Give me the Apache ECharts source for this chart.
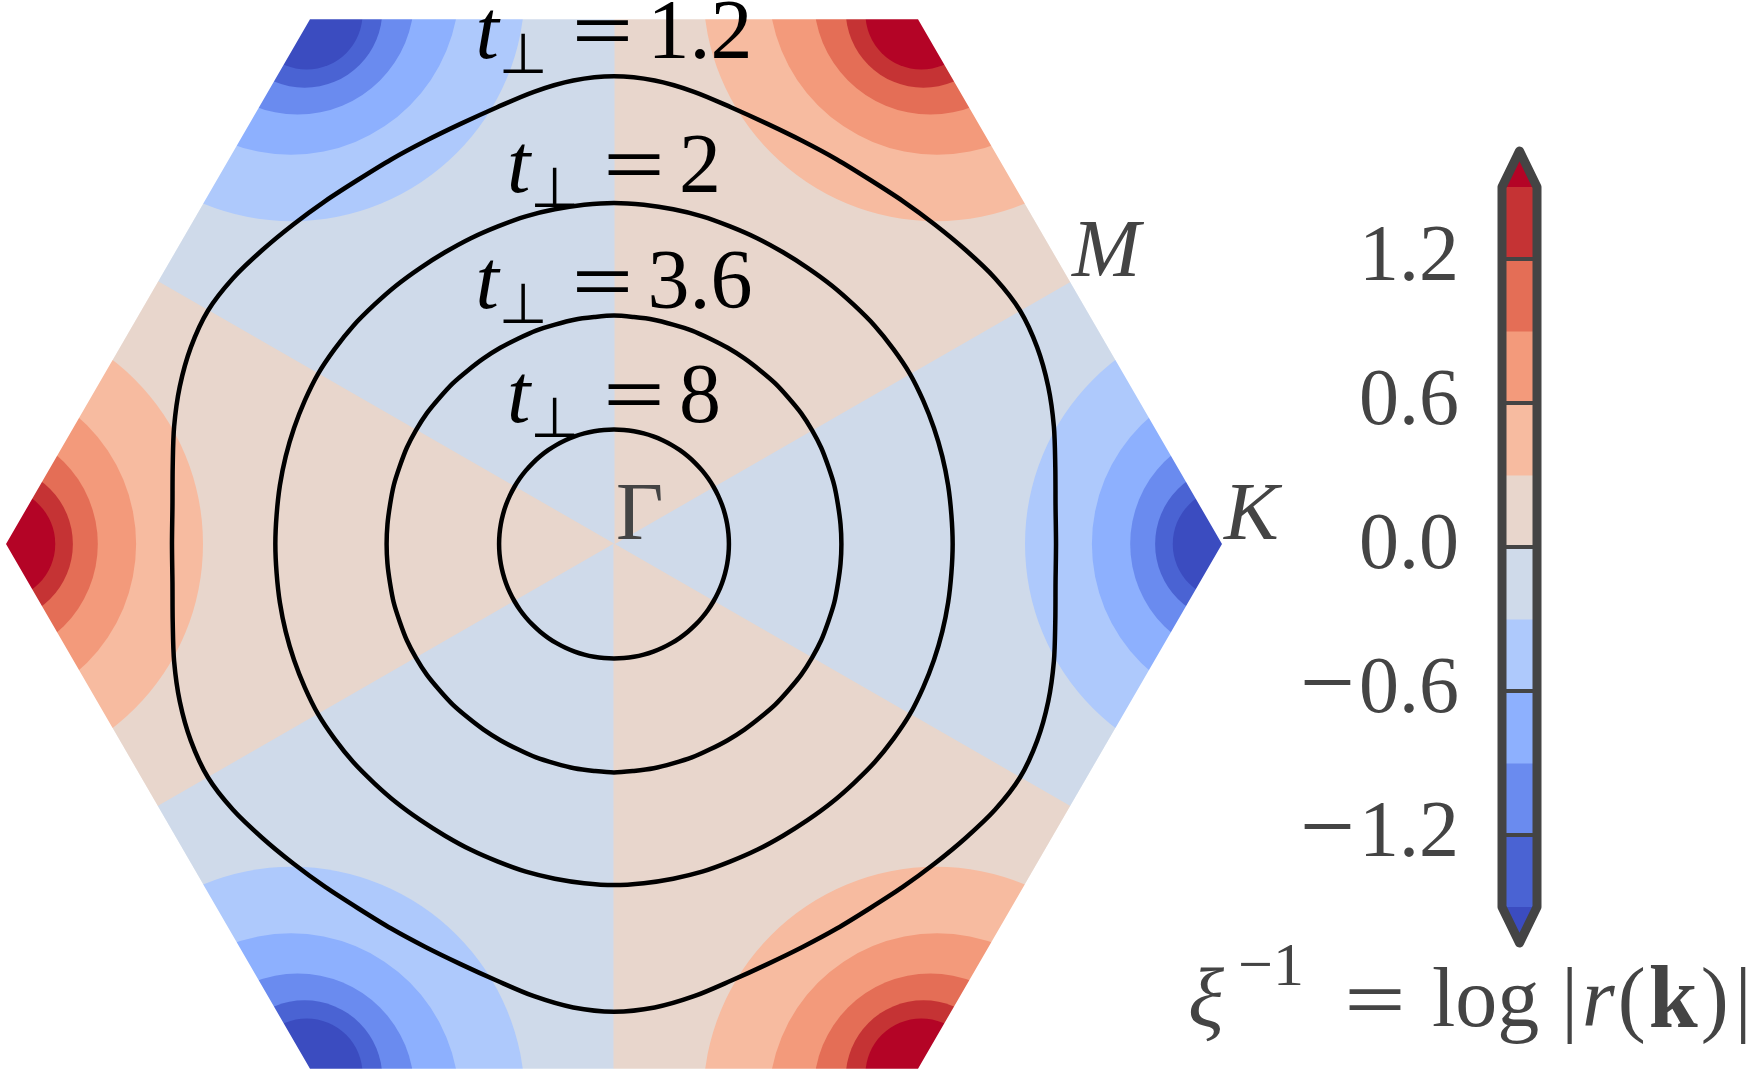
<!DOCTYPE html>
<html><head><meta charset="utf-8">
<script src="https://cdn.jsdelivr.net/npm/echarts@6/dist/echarts.min.js"></script>
<style>html,body{margin:0;padding:0;background:#fff}#c{width:1753px;height:1088px}</style>
</head><body><div id="c"></div>
<script>
// ---------------- data ----------------
const levels = [-1.5, -1.2, -0.9, -0.6, -0.3, 0, 0.3, 0.6, 0.9, 1.2, 1.5];
const levelColors = ['#3b4cc0','#4a63d3','#6a8bef','#8db0fe','#aec9fc','#cfdaea',
                     '#e8d6cc','#f7bba0','#f39a7b','#e46e56','#c53334','#b40426'];
// Brillouin-zone corners (K points) in units of |ΓK|, and sign of log|r| there
const cornerAngles = [0, 60, 120, 180, 240, 300];
const cornerSigns  = [-1, 1, -1, 1, -1, 1];
// filled-contour boundaries around each K point: |level| and distance from K
const ringLevels         = [0.3, 0.6, 0.9, 1.2, 1.5];
const ringRadiusBisector = [0.324, 0.214, 0.151, 0.110, 0.081];
const ringRadiusEdge     = [0.350, 0.240, 0.168, 0.118, 0.086];
// black contours: radius from Γ at polar angles 0..90 deg (mirror symmetric)
const contourLabels = ['1.2', '2', '3.6', '8'];
const contourAngles = [0, 5, 10, 15, 20, 25, 30, 35, 40, 45, 50, 55, 60, 65, 70, 75, 80, 85, 90];
const contourT12 = [0.727, 0.729, 0.737, 0.749, 0.760, 0.768, 0.771, 0.765, 0.755, 0.746, 0.739, 0.734,
                    0.733, 0.734, 0.738, 0.746, 0.758, 0.768, 0.772];
const contourT2  = [0.557, 0.557, 0.558, 0.559, 0.560, 0.561, 0.562, 0.561, 0.560, 0.558, 0.557, 0.556,
                    0.556, 0.557, 0.558, 0.560, 0.561, 0.562, 0.563];
const contourT36 = [0.374, 0.374, 0.374, 0.375, 0.375, 0.376, 0.376, 0.376, 0.375, 0.375, 0.374, 0.374,
                    0.374, 0.374, 0.375, 0.375, 0.376, 0.376, 0.377];
const contourT8  = [0.189, 0.189, 0.189, 0.189, 0.189, 0.189, 0.189, 0.189, 0.189, 0.189, 0.189, 0.189,
                    0.189, 0.189, 0.189, 0.189, 0.189, 0.189, 0.189];
const contourLabelY = [0.839, 0.618, 0.426, 0.238];
// high-symmetry point labels
const pointLabels = ['Γ', 'M', 'K'];
const pointX = [0, 0.75, 1];
const pointY = [0, 0.433, 0];
// colorbar
const cbarTicks = [-1.2, -0.6, 0, 0.6, 1.2];
const cbarExtend = 0.15;

// ---------------- drawing ----------------
const deg = Math.PI / 180;
const SERIF = "'Liberation Serif', 'DejaVu Serif', serif";
const SANS = "'DejaVu Sans', sans-serif";
const EQF = "'Noto Sans CJK SC', 'Liberation Serif', sans-serif";
const contours = [contourT12, contourT2, contourT36, contourT8];

function corner(i) { const a = cornerAngles[(i + 6) % 6] * deg; return [Math.cos(a), Math.sin(a)]; }
function mid(i, j) { const p = corner(i), q = corner(j); return [(p[0] + q[0]) / 2, (p[1] + q[1]) / 2]; }

const sectorSeries = {
  type: 'custom', xAxisIndex: 0, yAxisIndex: 0, z: 1, silent: true,
  data: cornerAngles.map((a, i) => [0, 0, i]), encode: { x: 0, y: 1 },
  renderItem(params, api) {
    const i = api.value(2);
    const pts = [[0, 0], mid(i - 1, i), corner(i), mid(i, i + 1)].map(p => api.coord(p));
    const c = levelColors[cornerSigns[i] > 0 ? 6 : 5];
    return { type: 'polygon', shape: { points: pts }, style: { fill: c, stroke: c, lineWidth: 1 } };
  }
};

// each boundary is a circular arc through the measured bisector / edge distances
const ringData = [];
cornerAngles.forEach((a, i) => ringLevels.forEach((L, j) => ringData.push([0, 0, i, j])));
const ringSeries = {
  type: 'custom', xAxisIndex: 0, yAxisIndex: 0, z: 2, silent: true,
  data: ringData, encode: { x: 0, y: 1 },
  renderItem(params, api) {
    const i = api.value(2), j = api.value(3);
    const K = corner(i);
    const B = ringRadiusBisector[j], E = ringRadiusEdge[j];
    const off = (E * E - B * B) / (2 * B - E);      // centre lies just outside the corner
    const rho = B + off;
    const c = api.coord([K[0] * (1 + off), K[1] * (1 + off)]);
    const rpx = api.size([rho, 0])[0];
    const s = cornerSigns[i];
    const idx = levels.indexOf(Math.round(s * ringLevels[j] * 10) / 10) + (s > 0 ? 1 : 0);
    return { type: 'circle', shape: { cx: c[0], cy: c[1], r: rpx }, style: { fill: levelColors[idx] } };
  }
};

const maskSeries = {
  type: 'custom', xAxisIndex: 0, yAxisIndex: 0, z: 3, silent: true,
  data: [[0, 0]], encode: { x: 0, y: 1 },
  renderItem(params, api) {
    const outer = [[-1.5, 1.0], [1.5, 1.0], [1.5, -1.0], [-1.5, -1.0], [-1.5, 1.0]];
    const hex = [2, 3, 4, 5, 0, 1, 2].map(k => corner(k));
    const pts = outer.concat(hex).map(p => api.coord(p));
    return { type: 'polygon', shape: { points: pts }, style: { fill: '#ffffff' } };
  }
};

const contourSeries = {
  type: 'custom', xAxisIndex: 0, yAxisIndex: 0, z: 4, silent: true,
  data: contours.map((c, i) => [0, 0, i]), encode: { x: 0, y: 1 },
  renderItem(params, api) {
    const r = contours[api.value(2)];
    const n = contourAngles.length;
    const pol = [];
    for (let k = 0; k < n; k++) pol.push([contourAngles[k], r[k]]);
    for (let k = n - 2; k >= 0; k--) pol.push([180 - contourAngles[k], r[k]]);
    for (let k = 1; k < n; k++) pol.push([180 + contourAngles[k], r[k]]);
    for (let k = n - 2; k >= 1; k--) pol.push([360 - contourAngles[k], r[k]]);
    const pts = pol.map(p => api.coord([p[1] * Math.cos(p[0] * deg), p[1] * Math.sin(p[0] * deg)]));
    return { type: 'polygon', shape: { points: pts, smooth: 0.3 },
             style: { fill: null, stroke: '#000', lineWidth: 4.5 } };
  }
};

const labelData = contourLabels.map((l, i) => [0, contourLabelY[i], 0, i])
  .concat(pointLabels.map((l, i) => [pointX[i], pointY[i], 1, i]));
const labelSeries = {
  type: 'custom', xAxisIndex: 0, yAxisIndex: 0, z: 5, silent: true,
  data: labelData, encode: { x: 0, y: 1 },
  renderItem(params, api) {
    const p = api.coord([api.value(0), api.value(1)]);
    const kind = api.value(2), i = api.value(3);
    if (kind === 0) {
      return { type: 'text', x: p[0], y: p[1], style: {
        text: '{t|t}{s|⊥}{e|\uFF1D}{n|' + contourLabels[i] + '}',
        align: 'center', verticalAlign: 'middle',
        rich: {
          t: { fontFamily: SERIF, fontStyle: 'italic', fontSize: 84, lineHeight: 100, fill: '#000' },
          s: { fontFamily: SANS, fontSize: 56, lineHeight: 40, padding: [46, 0, 0, 0], fill: '#000' },
          e: { fontFamily: EQF, fontSize: 70, lineHeight: 100, padding: [0, 10, 8, 20], fill: '#000' },
          n: { fontFamily: SERIF, fontSize: 84, lineHeight: 100, fill: '#000' }
        } } };
    }
    const italic = pointLabels[i] !== 'Γ';
    return { type: 'text', x: p[0] + 2, y: p[1] - 27, style: {
      text: pointLabels[i], fontFamily: SERIF, fontSize: 82, fontStyle: italic ? 'italic' : 'normal',
      fill: '#444', align: 'left', verticalAlign: 'middle' } };
  }
};

const cbarSeries = {
  type: 'custom', xAxisIndex: 1, yAxisIndex: 1, z: 6, silent: true,
  data: [[0.5, 0]], encode: { x: 0, y: 1 },
  renderItem(params, api) {
    const ch = [];
    const lo = levels[0], hi = levels[levels.length - 1];
    for (let i = 0; i < levels.length - 1; i++) {
      const a = api.coord([0, levels[i + 1]]), b = api.coord([1, levels[i]]);
      ch.push({ type: 'rect', shape: { x: a[0], y: a[1], width: b[0] - a[0], height: b[1] - a[1] + 0.5 },
                style: { fill: levelColors[i + 1] } });
    }
    ch.push({ type: 'polygon', shape: { points: [[0, hi], [1, hi], [0.5, hi + cbarExtend]].map(p => api.coord(p)) },
              style: { fill: levelColors[levelColors.length - 1] } });
    ch.push({ type: 'polygon', shape: { points: [[0, lo], [1, lo], [0.5, lo - cbarExtend]].map(p => api.coord(p)) },
              style: { fill: levelColors[0] } });
    cbarTicks.forEach(t => {
      const a = api.coord([0, t]), b = api.coord([1, t]);
      ch.push({ type: 'line', shape: { x1: a[0], y1: a[1], x2: b[0], y2: b[1] }, style: { stroke: '#444', lineWidth: 4 } });
    });
    const out = [[0, hi], [0.5, hi + cbarExtend], [1, hi], [1, lo], [0.5, lo - cbarExtend], [0, lo]].map(p => api.coord(p));
    ch.push({ type: 'polygon', shape: { points: out }, style: { fill: null, stroke: '#444', lineWidth: 9, lineJoin: 'round' } });
    return { type: 'group', children: ch };
  }
};

const option = {
  backgroundColor: '#ffffff',
  animation: false,
  grid: [
    { left: 6, top: 0, width: 1216, height: 1092 },
    { left: 1502, top: 115, width: 35, height: 864 }
  ],
  xAxis: [
    { type: 'value', gridIndex: 0, min: -1, max: 1, show: false },
    { type: 'value', gridIndex: 1, min: 0, max: 1, show: false }
  ],
  yAxis: [
    { type: 'value', gridIndex: 0, min: -0.898, max: 0.898, show: false },
    { type: 'value', gridIndex: 1, min: -1.8, max: 1.8, interval: 0.6, z: 10,
      axisLine: { show: false }, axisTick: { show: false }, splitLine: { show: false },
      axisLabel: { margin: 43, fontSize: 80, fontFamily: SERIF, color: '#444',
        rich: { m: { fontFamily: SERIF, fontSize: 98, color: '#444', padding: [0, 4, 4, 0] },
                v: { fontFamily: SERIF, fontSize: 80, color: '#444' } },
        formatter: v => { const r = Math.round(v * 10) / 10; if (Math.abs(r) > 1.5) return '';
          return (r < 0 ? '{m|\u2212}' : '') + '{v|' + Math.abs(r).toFixed(1) + '}'; } } }
  ],
  graphic: [{
    type: 'text', x: 1188, y: 1004, z: 20,
    style: {
      text: '{xi|ξ}{sup|\u22121}{e|\uFF1D}{n|log}{b||}{r|r}{p|(}{k|k}{p|)}{b2||}',
      align: 'left', verticalAlign: 'middle',
      rich: {
        xi: { fontFamily: SERIF, fontStyle: 'italic', fontSize: 84, lineHeight: 100, fill: '#444' },
        sup: { fontFamily: SERIF, fontSize: 62, lineHeight: 56, padding: [0, 6, 70, 14], fill: '#444' },
        e: { fontFamily: EQF, fontSize: 70, lineHeight: 100, padding: [0, 22, 8, 30], fill: '#444' },
        n: { fontFamily: SERIF, fontSize: 84, lineHeight: 100, fill: '#444' },
        b: { fontFamily: SERIF, fontSize: 84, lineHeight: 100, padding: [0, 4, 0, 22], fill: '#444' },
        r: { fontFamily: SERIF, fontStyle: 'italic', fontSize: 84, lineHeight: 100, padding: [0, 3, 0, 0], fill: '#444' },
        p: { fontFamily: SERIF, fontSize: 84, lineHeight: 100, fill: '#444' },
        k: { fontFamily: SERIF, fontWeight: 'bold', fontSize: 88, lineHeight: 100, padding: [0, 3, 0, 3], fill: '#444' },
        b2: { fontFamily: SERIF, fontSize: 84, lineHeight: 100, padding: [0, 0, 0, 6], fill: '#444' }
      }
    }
  }],
  series: [sectorSeries, ringSeries, maskSeries, contourSeries, labelSeries, cbarSeries]
};
const chart = echarts.init(document.getElementById('c'), null, { renderer: 'canvas' });
chart.setOption(option);
</script></body></html>
